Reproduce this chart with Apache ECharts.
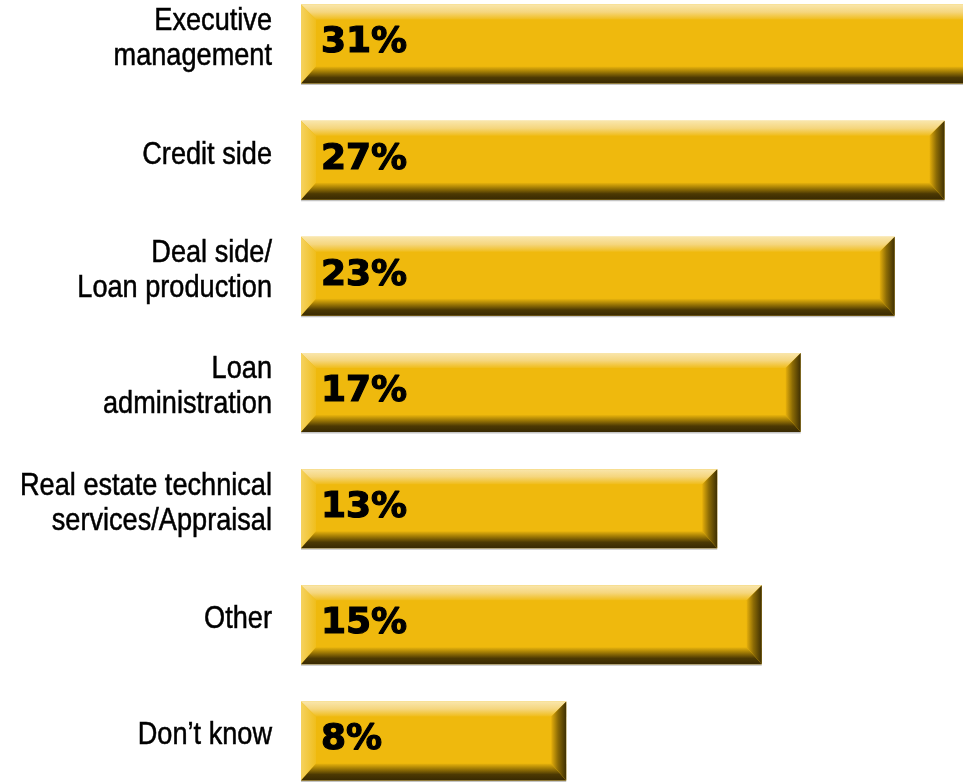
<!DOCTYPE html>
<html>
<head>
<meta charset="utf-8">
<script src="https://cdn.jsdelivr.net/npm/echarts@6/dist/echarts.min.js"></script>
<style>
  html, body { margin: 0; padding: 0; background: #ffffff; }
  #chart { width: 963px; height: 783px; }
</style>
</head>
<body>
<div id="chart"></div>
<script>
// Survey categories, top to bottom
const categories = [
  'Executive\nmanagement',
  'Credit side',
  'Deal side/\nLoan production',
  'Loan\nadministration',
  'Real estate technical\nservices/Appraisal',
  'Other',
  'Don\u2019t know'
];
// Share of respondents, in percent
const shares = [31, 27, 23, 17, 13, 15, 8];

const chart = echarts.init(document.getElementById('chart'), null, { renderer: 'canvas' });

// Bevelled gold bar: flat face, four shaded edges, value and a condensed category label
function renderBar(params, api) {
  const v = api.value(0);
  const idx = api.value(1);
  const end = api.coord([v, idx]);
  const cs = params.coordSys;
  const h = api.size([0, 1])[1] * 0.68;
  const x0 = cs.x, x1 = end[0];
  const yc = end[1];
  const y0 = yc - h / 2, y1 = yc + h / 2;
  const bt = 15, bb = 17, bl = 15, br = 15;
  const grad = (x, y, x2, y2, stops) => new echarts.graphic.LinearGradient(x, y, x2, y2, stops);

  return {
    type: 'group',
    children: [
      { type: 'rect', shape: { x: x0, y: y1, width: x1 - x0, height: 1.5 },
        style: { fill: '#c4c4c4' } },
      { type: 'rect', shape: { x: x0, y: y0, width: x1 - x0, height: h },
        style: { fill: '#EFB90D' } },
      // top highlight
      { type: 'polygon', shape: { points: [[x0, y0], [x1, y0], [x1 - br, y0 + bt], [x0 + bl, y0 + bt]] },
        style: { fill: grad(0, 0, 0, 1, [
          { offset: 0, color: '#F9E6AC' },
          { offset: 0.5, color: '#F5D67E' },
          { offset: 1, color: '#F0BD1A' }]) } },
      // left highlight
      { type: 'polygon', shape: { points: [[x0, y0], [x0 + bl, y0 + bt], [x0 + bl, y1 - bb], [x0, y1]] },
        style: { fill: grad(0, 0, 1, 0, [
          { offset: 0, color: '#F5D260' },
          { offset: 1, color: '#F0BE1C' }]) } },
      // bottom shadow
      { type: 'polygon', shape: { points: [[x0, y1], [x0 + bl, y1 - bb], [x1 - br, y1 - bb], [x1, y1]] },
        style: { fill: grad(0, 0, 0, 1, [
          { offset: 0, color: '#E9B40C' },
          { offset: 0.3, color: '#A27C05' },
          { offset: 0.65, color: '#4C3903' },
          { offset: 1, color: '#382902' }]) } },
      // right shadow
      { type: 'polygon', shape: { points: [[x1, y0], [x1, y1], [x1 - br, y1 - bb], [x1 - br, y0 + bt]] },
        style: { fill: grad(0, 0, 1, 0, [
          { offset: 0, color: '#E5AF0B' },
          { offset: 0.45, color: '#8C6B05' },
          { offset: 1, color: '#3E2F03' }]) } },
      // value label
      { type: 'text',
        style: {
          text: v + '%', x: x0 + 20, y: yc - 1,
          fill: '#000000', fontSize: 36, fontWeight: 'bold',
          fontFamily: '"DejaVu Sans", sans-serif',
          stroke: '#000000', lineWidth: 1.2,
          align: 'left', verticalAlign: 'middle'
        } },
      // category label, horizontally condensed
      { type: 'text',
        x: x0 - 29, y: yc - 5,
        scaleX: 0.89, scaleY: 1,
        style: {
          text: categories[idx], x: 0, y: 0,
          fill: '#000000', fontSize: 30.5, lineHeight: 35,
          fontFamily: '"Liberation Sans", Arial, sans-serif',
          stroke: '#000000', lineWidth: 0.5,
          align: 'right', verticalAlign: 'middle'
        } }
    ]
  };
}

chart.setOption({
  animation: false,
  backgroundColor: '#ffffff',
  grid: { left: 301, right: 0, top: -14, bottom: -16, outerBoundsMode: 'none', containLabel: false },
  xAxis: {
    type: 'log',
    min: 3.41,
    max: 28.65,
    show: false,
    splitLine: { show: false }
  },
  yAxis: {
    type: 'category',
    inverse: true,
    data: categories,
    axisLine: { show: false },
    axisTick: { show: false },
    splitLine: { show: false },
    axisLabel: { show: false }
  },
  series: [{
    type: 'custom',
    renderItem: renderBar,
    encode: { x: 0, y: 1 },
    data: shares.map((v, i) => [v, i])
  }]
});
</script>
</body>
</html>
